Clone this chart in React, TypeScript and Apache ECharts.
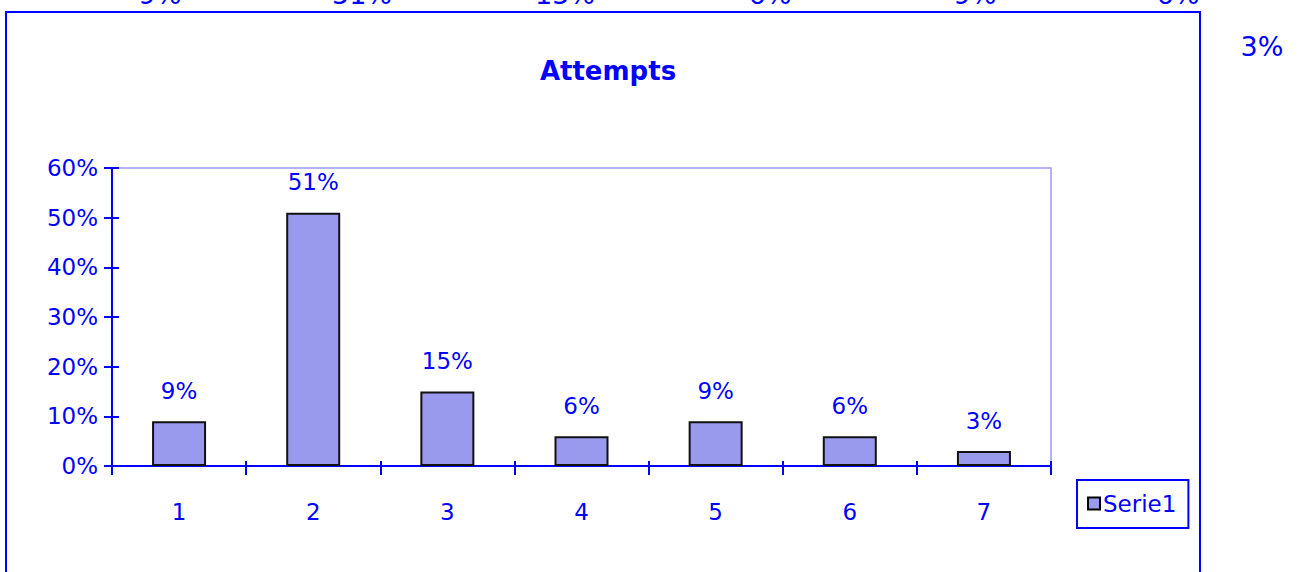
import React, { useEffect, useRef } from "react";
import * as echarts from "echarts";

const categories = ["1", "2", "3", "4", "5", "6", "7"];
const values = [9, 51, 15, 6, 9, 6, 3];
const yTicks = { min: 0, max: 60, interval: 10 };
const seriesName = "Serie1";
const title = "Attempts";

// x positions of the clipped duplicate label row at the top edge
const ghostX = [160, 362, 565, 770, 975, 1178];

const BLUE = "#0000ff";
const FONT = "DejaVu Sans";

export default function App() {
  const ref = useRef<HTMLDivElement>(null);
  useEffect(() => {
    document.body.style.margin = "0";
    const chart = echarts.init(ref.current!, null, { renderer: "svg" });
    const ghost: any[] = values.slice(0, 6).map((v, i) => ({
      type: "text",
      x: ghostX[i],
      y: -6,
      style: {
        text: v + "%",
        fill: BLUE,
        font: `27px '${FONT}'`,
        align: "center",
        verticalAlign: "middle",
      },
      z: 1,
    }));
    ghost.push({
      type: "text",
      x: 1262,
      y: 46,
      style: {
        text: values[6] + "%",
        fill: BLUE,
        font: `27px '${FONT}'`,
        align: "center",
        verticalAlign: "middle",
      },
    });
    chart.setOption({
      animation: false,
      backgroundColor: "#ffffff",
      textStyle: { fontFamily: FONT },
      title: {
        text: title,
        left: 603,
        textAlign: "center",
        top: 53,
        textStyle: { color: BLUE, fontSize: 26, fontWeight: "bold", fontFamily: FONT },
      },
      graphic: [
        {
          type: "rect",
          shape: { x: 6, y: 12, width: 1194, height: 620 },
          style: { fill: "none", stroke: BLUE, lineWidth: 2 },
          z: 10,
        },
        ...ghost,
      ],
      legend: {
        left: 1077,
        top: 480,
        orient: "vertical",
        data: [seriesName],
        icon: "rect",
        itemWidth: 12,
        itemHeight: 12,
        itemGap: 0,
        padding: [12, 12, 13, 10],
        borderColor: BLUE,
        borderWidth: 2,
        textStyle: { color: BLUE, fontSize: 23, fontFamily: FONT, padding: [0, 0, 0, -2] },
        itemStyle: { borderColor: "#000", borderWidth: 2 },
      },
      grid: {
        left: 112,
        right: 1298 - 1051,
        top: 168,
        bottom: 572 - 466,
        show: true,
        borderColor: "#9999ff",
        borderWidth: 1.5,
      },
      xAxis: [
        {
          type: "category",
          data: categories,
          boundaryGap: true,
          axisLine: { lineStyle: { color: BLUE, width: 2 } },
          axisTick: { show: true, length: 9, lineStyle: { color: BLUE, width: 2 } },
          axisLabel: { color: BLUE, fontSize: 23, margin: 34, fontFamily: FONT },
          splitLine: { show: false },
        },
        {
          type: "category",
          data: categories,
          position: "bottom",
          boundaryGap: true,
          axisLine: { show: false },
          axisTick: { show: true, inside: true, length: 5, lineStyle: { color: BLUE, width: 2 } },
          axisLabel: { show: false },
        },
      ],
      yAxis: [
        {
          type: "value",
          min: yTicks.min,
          max: yTicks.max,
          interval: yTicks.interval,
          axisLine: { show: true, lineStyle: { color: BLUE, width: 2 } },
          axisTick: { show: true, length: 8, lineStyle: { color: BLUE, width: 2 } },
          axisLabel: { color: BLUE, fontSize: 23, margin: 14, formatter: "{value}%", fontFamily: FONT },
          splitLine: { show: false },
        },
        {
          type: "value",
          position: "left",
          min: yTicks.min,
          max: yTicks.max,
          interval: yTicks.interval,
          axisLine: { show: false },
          axisTick: { show: true, inside: true, length: 7, lineStyle: { color: BLUE, width: 2 } },
          axisLabel: { show: false },
          splitLine: { show: false },
        },
      ],
      series: [
        {
          name: seriesName,
          type: "bar",
          data: values,
          barWidth: 54,
          itemStyle: { color: "#9999ee", borderColor: "#111", borderWidth: 2 },
          label: {
            show: true,
            position: "top",
            distance: 19,
            formatter: "{c}%",
            color: BLUE,
            fontSize: 23,
            fontFamily: FONT,
          },
        },
      ],
    });
    return () => chart.dispose();
  }, []);
  return (
    <div
      ref={ref}
      style={{ position: "absolute", left: 0, top: 0, width: 1298, height: 572 }}
    />
  );
}
